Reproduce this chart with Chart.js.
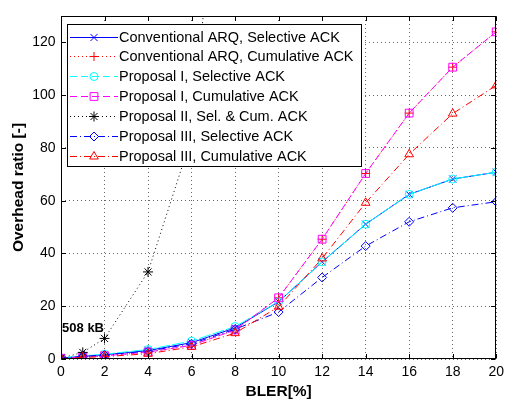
<!DOCTYPE html>
<html><head><meta charset="utf-8">
<script src="https://cdn.jsdelivr.net/npm/chart.js@4.4.0/dist/chart.umd.min.js"></script>
<style>html,body{margin:0;padding:0;background:#fff;}canvas{display:block;}</style>
</head><body>
<canvas id="c" width="509" height="401"></canvas>
<script>
// ---- data ----
const bler = [0, 1, 2, 4, 6, 8, 10, 12, 14, 16, 18, 20];
const convSel    = [0.3, 1.0, 1.6, 3.2, 6.2, 11.8, 21.7, 36.8, 51.1, 62.4, 68.2, 70.8];
const convCum    = [0.3, 0.8, 1.2, 2.6, 5.2, 11.0, 23.2, 45.4, 70.3, 93.2, 110.6, 124.0];
const propISel   = [0.4, 1.2, 1.8, 3.6, 6.8, 12.3, 21.7, 36.8, 51.1, 62.4, 68.2, 70.8];
const propICum   = [0.3, 0.8, 1.2, 2.6, 5.2, 11.0, 23.2, 45.4, 70.3, 93.2, 110.6, 124.0];
const propII     = [0.3, 2.5, 7.8, 33.0, 84.0, 257.0];
const propIIISel = [0.3, 1.0, 1.5, 3.0, 5.8, 11.3, 17.8, 30.9, 42.8, 52.0, 57.3, 59.6];
const propIIICum = [0.2, 0.6, 0.9, 2.0, 4.6, 9.8, 19.8, 38.1, 59.2, 77.6, 93.0, 103.7];
const seriesNames = [
  'Conventional ARQ, Selective ACK',
  'Conventional ARQ, Cumulative ACK',
  'Proposal I, Selective ACK',
  'Proposal I, Cumulative ACK',
  'Proposal II, Sel. & Cum. ACK',
  'Proposal III, Selective ACK',
  'Proposal III, Cumulative ACK'
];
const xTickStep = 2;
const yTickStep = 20;
const yTickMax = 120;
const annotationText = '508 kB';
const annotationAt = {x: 0.05, y: 11.7};

const FONT = "'Liberation Sans', Arial, Helvetica, sans-serif";
const series = [convSel, convCum, propISel, propICum, propII, propIIISel, propIIICum];
const styles = [
  {color:'#0000ff', dash:[],        point:'crossRot', r:5},
  {color:'#ff0000', dash:[1,3],     point:'cross',    r:4.5},
  {color:'#00ffff', dash:[12,2],    point:'circle',   r:4},
  {color:'#ff00ff', dash:[7,3],     point:'rect',     r:5.5},
  {color:'#000000', dash:[1,3],     point:'star',     r:5},
  {color:'#0000ff', dash:[7,3,1,3], point:'rectRot',  r:4.5},
  {color:'#ff0000', dash:[7,3,1,3], point:'triangle', r:5}
];
const legendDash = [[], [1,3], [7,4], [7,4], [1,3], [7,3,1,3], [7,3,1,3]];

const datasets = series.map((arr, i) => ({
  label: seriesNames[i],
  data: arr.map((y, k) => ({x: bler[k], y})),
  borderColor: styles[i].color,
  borderWidth: 1,
  borderDash: styles[i].dash,
  fill: false,
  tension: 0,
  pointStyle: styles[i].point,
  pointRadius: styles[i].r,
  pointHoverRadius: styles[i].r,
  pointBorderColor: styles[i].color,
  pointBackgroundColor: 'rgba(0,0,0,0)',
  pointBorderWidth: 1,
  order: 20 - i
}));

function marker(ctx, style, r, x, y) {
  if (Chart.helpers && Chart.helpers.drawPoint) {
    Chart.helpers.drawPoint(ctx, {pointStyle: style, radius: r, borderWidth: 1, rotation: 0}, x, y);
    return;
  }
  ctx.beginPath(); ctx.arc(x, y, r, 0, Math.PI*2); ctx.stroke();
}

const decor = {
  id: 'decor',
  afterDatasetsDraw(chart) {
    const ctx = chart.ctx, a = chart.chartArea;
    const xs = chart.scales.x, ys = chart.scales.y;
    ctx.save();
    // frame
    ctx.setLineDash([]);
    ctx.strokeStyle = '#000'; ctx.lineWidth = 1;
    const L = Math.round(a.left) + 0.5, R = Math.round(a.right) - 0.5;
    const T = Math.round(a.top) + 0.5, B = Math.round(a.bottom) - 0.5;
    ctx.strokeRect(L, T, R - L, B - T);
    // inward ticks
    const tl = 4.5;
    ctx.beginPath();
    xs.ticks.forEach(t => {
      const px = Math.round(xs.getPixelForValue(t.value)) + 0.5;
      ctx.moveTo(px, B); ctx.lineTo(px, B - tl);
      ctx.moveTo(px, T); ctx.lineTo(px, T + tl);
    });
    ys.ticks.forEach(t => {
      const py = Math.round(ys.getPixelForValue(t.value)) + 0.5;
      ctx.moveTo(L, py); ctx.lineTo(L + tl, py);
      ctx.moveTo(R, py); ctx.lineTo(R - tl, py);
    });
    ctx.stroke();
    // annotation
    ctx.fillStyle = '#000';
    ctx.font = 'bold 13px ' + FONT;
    ctx.textAlign = 'left'; ctx.textBaseline = 'middle';
    ctx.fillText(annotationText, xs.getPixelForValue(annotationAt.x), ys.getPixelForValue(annotationAt.y));
    // legend
    const box = {x: 67.5, y: 24.5, w: 294, h: 142};
    const first = 36.5, row = 19.9;
    ctx.fillStyle = '#fff';
    ctx.fillRect(box.x, box.y, box.w, box.h);
    ctx.strokeStyle = '#000';
    ctx.strokeRect(box.x, box.y, box.w, box.h);
    chart.data.datasets.forEach((ds, i) => {
      const y = Math.round(first + i * row) + 0.5;
      ctx.strokeStyle = ds.borderColor; ctx.lineWidth = 1;
      ctx.setLineDash(legendDash[i]);
      ctx.beginPath(); ctx.moveTo(70, y); ctx.lineTo(118, y); ctx.stroke();
      ctx.setLineDash([]);
      ctx.fillStyle = 'rgba(0,0,0,0)';
      marker(ctx, ds.pointStyle, ds.pointRadius, 94, y);
      ctx.fillStyle = '#000';
      ctx.font = '14.5px ' + FONT;
      ctx.textAlign = 'left'; ctx.textBaseline = 'middle';
      ctx.fillText(ds.label, 119, y);
    });
    ctx.restore();
  }
};

new Chart(document.getElementById('c'), {
  type: 'line',
  data: {datasets},
  plugins: [decor],
  options: {
    responsive: false, animation: false, devicePixelRatio: 1,
    layout: {padding: {left: 0, right: 12, top: 16, bottom: 0}},
    plugins: {legend: {display: false}, tooltip: {enabled: false}},
    scales: {
      x: {
        type: 'linear', min: 0, max: 20,
        ticks: {stepSize: xTickStep, color: '#000', font: {family: FONT, size: 14}, padding: 5, maxRotation: 0, autoSkip: false},
        grid: {color: 'rgba(0,0,0,0.6)', drawTicks: false, lineWidth: 1},
        border: {display: false, dash: [1, 3]},
        title: {display: true, text: 'BLER[%]', color: '#000', font: {family: FONT, size: 15.5, weight: 'bold', lineHeight: 1.2}, padding: {top: 0, bottom: 0}},
        afterFit(s) { s.height = 42; }
      },
      y: {
        type: 'linear', min: 0, max: 130,
        ticks: {stepSize: yTickStep, color: '#000', font: {family: FONT, size: 14}, padding: 5.5},
        afterBuildTicks(s) { s.ticks = s.ticks.filter(t => t.value <= yTickMax); },
        grid: {color: 'rgba(0,0,0,0.6)', drawTicks: false, lineWidth: 1},
        border: {display: false, dash: [1, 3]},
        title: {display: true, text: 'Overhead ratio [-]', color: '#000', font: {family: FONT, size: 15.5, weight: 'bold', lineHeight: 1.2}, padding: {top: 9.7, bottom: 0}},
        afterFit(s) { s.width = 61; }
      }
    }
  }
});
</script>
</body></html>
